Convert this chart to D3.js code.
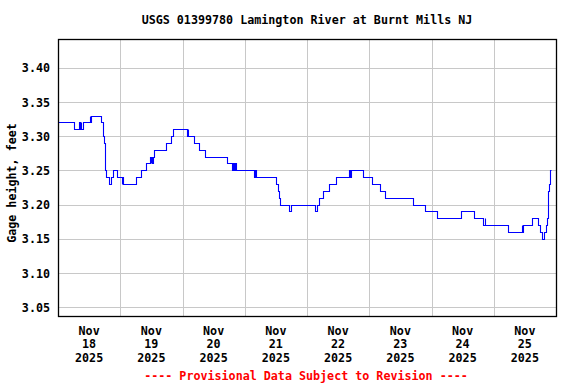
<!DOCTYPE html>
<html><head><meta charset="utf-8">
<script src="https://cdn.jsdelivr.net/npm/d3@7"></script>
<style>
body{margin:0;background:#fff;}
svg text{font-family:"DejaVu Sans Mono",monospace;font-weight:bold;font-size:11.7px;}
</style></head>
<body><svg id="c" width="576" height="384"></svg>
<script>
const title = "USGS 01399780 Lamington River at Burnt Mills NJ";
const yLabel = "Gage height, feet";
const footer = "---- Provisional Data Subject to Revision ----";
const startDate = "2025-11-18T00:00";
const endDate = "2025-11-26T00:00";
const yTicks = [3.05, 3.10, 3.15, 3.20, 3.25, 3.30, 3.35, 3.40];
const yDomain = [3.037, 3.442];
const dayLabels = ["18","19","20","21","22","23","24","25"];
// hours after Nov 18 00:00 and gage height (ft), step changes
const hours = [0,6.25,8.25,8.5,8.75,9.0,9.5,12.25,12.5,12.75,16.5,17.25,17.5,17.75,18.0,18.25,18.5,19.5,20.5,21.25,22.75,24.5,24.75,25.0,30.25,32.0,33.75,35.5,35.75,36.0,36.25,36.5,37.0,41.75,43.5,44.5,49.75,50.0,50.25,52.25,54.25,56.75,65.0,67.25,67.5,68.0,68.25,68.5,75.5,76.0,76.5,84.0,84.75,85.25,85.75,89.25,89.75,99.25,100.0,100.75,102.25,104.5,107.0,112.25,112.5,113.0,117.75,121.25,124.0,126.25,137.0,141.5,146.25,155.25,160.5,164.0,164.5,164.75,173.5,178.75,179.0,179.25,182.75,185.25,185.75,186.5,187.5,188.0,188.5,188.75,189.0,189.25,189.5,189.75,190.25];
const values = [3.32,3.31,3.32,3.31,3.32,3.31,3.32,3.33,3.32,3.33,3.32,3.31,3.30,3.29,3.28,3.25,3.24,3.23,3.24,3.25,3.24,3.23,3.24,3.23,3.24,3.25,3.26,3.27,3.26,3.27,3.26,3.27,3.28,3.29,3.30,3.31,3.30,3.31,3.30,3.29,3.28,3.27,3.26,3.25,3.26,3.25,3.26,3.25,3.24,3.25,3.24,3.23,3.22,3.21,3.20,3.19,3.20,3.19,3.20,3.21,3.22,3.23,3.24,3.25,3.24,3.25,3.24,3.23,3.22,3.21,3.20,3.19,3.18,3.19,3.18,3.17,3.18,3.17,3.16,3.17,3.16,3.17,3.18,3.17,3.16,3.15,3.16,3.17,3.18,3.20,3.22,3.23,3.24,3.25,3.25];

const svg = d3.select("#c");
const m = {l:58, r:556, t:39, b:316};
const t0 = new Date(startDate), t1 = new Date(endDate);
const x = d3.scaleTime().domain([t0,t1]).range([m.l, m.r]);
const y = d3.scaleLinear().domain(yDomain).range([m.b, m.t]);
const data = hours.map((h,i)=>({t:new Date(t0.getTime()+h*3600e3), v:values[i]}));

// grid
const days = d3.timeDay.range(d3.timeDay.offset(t0,1), t1);
svg.append("g").selectAll("line").data(days).join("line")
  .attr("x1",d=>Math.round(x(d))+0.5).attr("x2",d=>Math.round(x(d))+0.5)
  .attr("y1",m.t).attr("y2",m.b).attr("stroke","#c8c8c8").attr("stroke-width",1);
svg.append("g").selectAll("line").data(yTicks).join("line")
  .attr("x1",m.l).attr("x2",m.r)
  .attr("y1",d=>Math.round(y(d))+0.5).attr("y2",d=>Math.round(y(d))+0.5)
  .attr("stroke","#c8c8c8").attr("stroke-width",1);

// line
svg.append("path").datum(data)
  .attr("d", d3.line().x(d=>Math.round(x(d.t))+0.5).y(d=>Math.round(y(d.v))+0.5).curve(d3.curveStepAfter))
  .attr("fill","none").attr("stroke","#0000ff").attr("stroke-width",1.1);

// frame
svg.append("rect").attr("x",m.l+0.5).attr("y",m.t+0.5).attr("width",m.r-m.l).attr("height",m.b-m.t)
  .attr("fill","none").attr("stroke","#000").attr("stroke-width",1.3);

// y ticks
const ya = d3.axisLeft(y).tickValues(yTicks).tickFormat(d3.format(".2f")).tickSize(0).tickPadding(8);
const yg = svg.append("g").attr("transform",`translate(${m.l},0)`).call(ya);
yg.select(".domain").remove();
yg.selectAll("text").attr("font-family",null).attr("font-size",null).attr("fill","#000").attr("dy","0.36em");

// x labels at noon
const noons = days.map(d=>d3.timeHour.offset(d,-12)).concat([d3.timeHour.offset(t1,-12)]);
const xl = svg.append("g");
noons.forEach((d,i)=>{
  const cx = x(d);
  const tx = xl.append("text").attr("text-anchor","middle").attr("fill","#000");
  tx.append("tspan").attr("x",cx).attr("y",335).text("Nov");
  tx.append("tspan").attr("x",cx).attr("y",348.3).text(dayLabels[i]);
  tx.append("tspan").attr("x",cx).attr("y",361.5).text("2025");
});

svg.append("text").attr("x",307).attr("y",24).attr("text-anchor","middle").text(title);
svg.append("text").attr("transform","translate(16,183) rotate(-90)").attr("text-anchor","middle").text(yLabel);
svg.append("text").attr("x",306).attr("y",380).attr("text-anchor","middle").attr("fill","#ff0000").text(footer);
</script></body></html>
